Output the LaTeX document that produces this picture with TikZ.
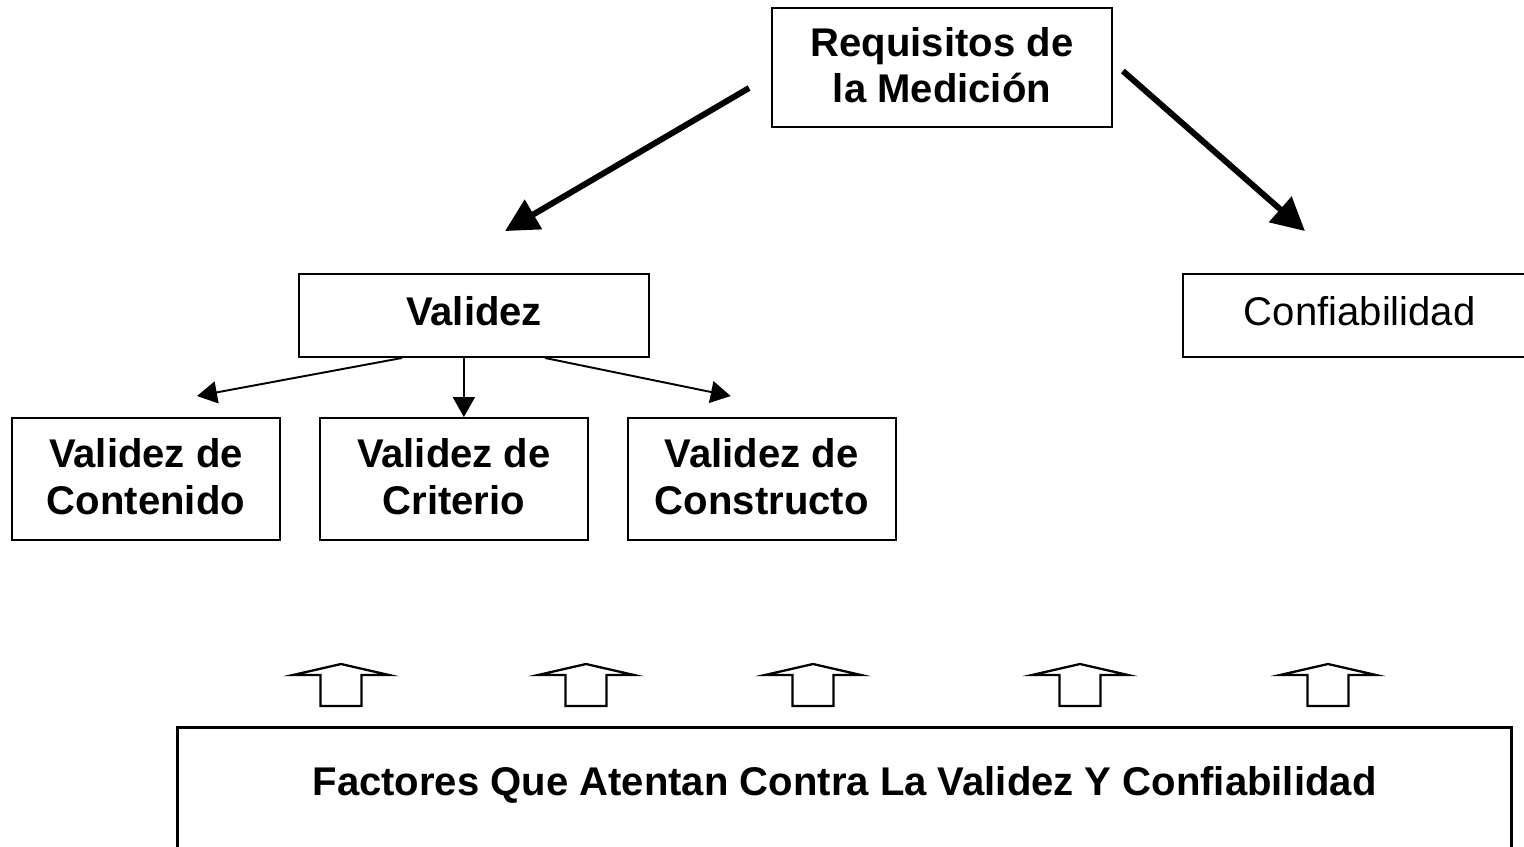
\documentclass[tikz,border=0pt]{standalone}
\usepackage{fontspec}
\setmainfont{Liberation Sans}
\usepackage{tikz}
\usetikzlibrary{arrows.meta,positioning}

\begin{document}
\begin{tikzpicture}[x=0.02cm, y=-0.02cm,
    box/.style={draw, line width=1.1pt, align=center, font=\fontsize{22.8}{26.7}\selectfont\bfseries},
    plainbox/.style={box, font=\fontsize{22.8}{26.7}\selectfont},
    bigarrow/.style={line width=3.4pt, -{Triangle[length=0.66cm, width=0.66cm]}},
    smallarrow/.style={line width=1.1pt, -{Triangle[length=0.4cm, width=0.44cm]}},
    hollowarrow/.style={draw, line width=1.3pt, line join=miter}]

  \useasboundingbox (0,0) rectangle (1524,846);

  % Define nodes
  \node[box, minimum width=6.8cm, minimum height=2.38cm, text depth=0.1cm] (Requisitos) at (942,67.5) {Requisitos de\\la Medición};
  \node[box, minimum width=7cm, minimum height=1.66cm, text depth=0.2cm] (Validez) at (474,315.5) {Validez};
  \node[plainbox, anchor=west, align=left, inner xsep=1.22cm, text width=4.76cm, minimum height=1.66cm, text depth=0.2cm] (Confiabilidad) at (1182,315.5) {Confiabilidad};
  \node[box, minimum width=5.36cm, minimum height=2.44cm, text depth=0.1cm] (Contenido) at (146,479) {Validez de\\Contenido};
  \node[box, minimum width=5.36cm, minimum height=2.44cm, text depth=0.1cm, right=0.76cm of Contenido] (Criterio) {Validez de\\Criterio};
  \node[box, minimum width=5.36cm, minimum height=2.44cm, text depth=0.1cm, right=0.76cm of Criterio] (Constructo) {Validez de\\Constructo};
  \node[box, line width=1.8pt, anchor=north, minimum width=26.7cm, inner ysep=0.78cm, text depth=2cm] (Factores) at (844.5,726) {Factores Que Atentan Contra La Validez Y Confiabilidad};

  % Connect the nodes
  \draw[bigarrow] ([xshift=-0.44cm, yshift=-0.41cm]Requisitos.west) -- ([xshift=0.62cm, yshift=0.84cm]Validez.north);
  \draw[bigarrow] ([xshift=0.2cm, yshift=-0.07cm]Requisitos.east) -- ([xshift=2.46cm, yshift=0.84cm]Confiabilidad.north west);
  \draw[smallarrow] ([xshift=-1.44cm]Validez.south) -- ([xshift=1.02cm, yshift=0.42cm]Contenido.north);
  \draw[smallarrow] ([xshift=0.2cm]Criterio.north |- Validez.south) -- ([xshift=0.2cm]Criterio.north);
  \draw[smallarrow] ([xshift=1.42cm]Validez.south) -- ([xshift=-0.62cm, yshift=0.42cm]Constructo.north);

  % Hollow arrows over the bottom box
  \foreach \x in {341,586,813,1080,1328}
    \draw[hollowarrow] (\x-20.5,706) -- (\x-20.5,675) -- (\x-48,675) -- (\x,664)
      -- (\x+48,675) -- (\x+20.5,675) -- (\x+20.5,706) -- cycle;

\end{tikzpicture}
\end{document}
